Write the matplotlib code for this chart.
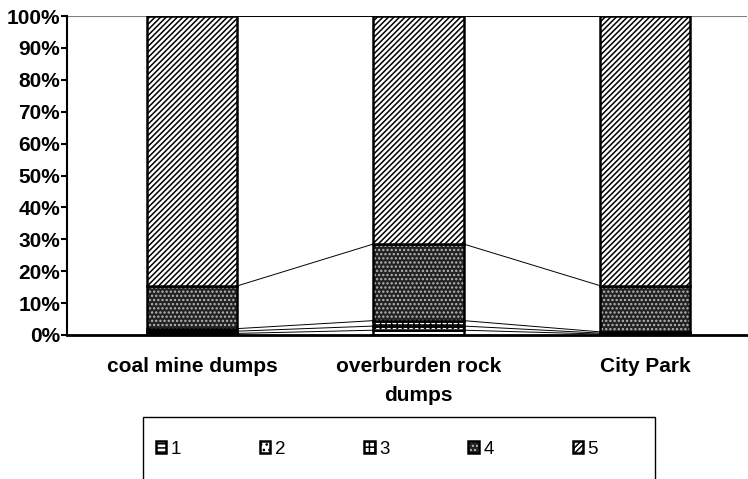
import matplotlib.pyplot as plt
import numpy as np
from matplotlib.patches import Rectangle
from matplotlib.legend_handler import HandlerTuple

plt.rcParams['font.family'] = ['Liberation Sans', 'DejaVu Sans']
plt.rcParams['hatch.linewidth'] = 1.1

sites = ['coal mine dumps', 'overburden rock\ndumps', 'City Park']
classes = ['1', '2', '3', '4', '5']
# percentage share of each class per site
c1 = [0.5, 1.5, 0.3]
c2 = [0.7, 1.3, 0.3]
c3 = [0.8, 1.7, 0.4]
c4 = [13.4, 24.0, 14.5]
c5 = [84.6, 71.5, 84.5]
series = [c1, c2, c3, c4, c5]

hatches = ['----', '...', '+++', '....', '//////']
faces = ['white', 'white', 'white', '#222222', 'white']
hcols = ['black', 'black', 'black', '#b8b8b8', 'black']

fig = plt.figure(figsize=(7.48, 4.79), dpi=100)
ax = fig.add_axes([67 / 748, 1 - 335 / 479, 680 / 748, 319 / 479])

x = np.arange(len(sites))
w = 0.4
bottom = np.zeros(len(sites))
handles = []
for vals, h, fc, hc in zip(series, hatches, faces, hcols):
    vals = np.array(vals)
    b1 = ax.bar(x, vals, w, bottom=bottom, color=fc, edgecolor=hc,
                hatch=h, linewidth=0)
    b2 = ax.bar(x, vals, w, bottom=bottom, fill=False, edgecolor='black',
                linewidth=1.8)
    handles.append((b1, b2))
    top = bottom + vals
    # series lines between bars
    for i in range(len(sites) - 1):
        ax.plot([x[i] + w / 2, x[i + 1] - w / 2], [top[i], top[i + 1]],
                color='black', linewidth=0.7)
    bottom = top

ax.set_xlim(-125 / 226.5, (747 - 192) / 226.5)
ax.set_ylim(0, 100)
ax.set_yticks(np.arange(0, 101, 10))
ax.set_yticklabels([f'{v}%' for v in range(0, 101, 10)], fontsize=15, fontweight='bold')
ax.set_xticks(x)
ax.set_xticklabels(sites, fontsize=15, fontweight='bold', linespacing=1.65)
ax.tick_params(axis='x', length=0, pad=16)
ax.tick_params(axis='y', direction='out', length=4, width=1.5, pad=1)
ax.axhline(100, color='#808080', linewidth=1.5, zorder=0)
for s in ['top', 'right']:
    ax.spines[s].set_visible(False)
ax.spines['left'].set_linewidth(1.5)
ax.spines['bottom'].set_linewidth(2)

# legend box (extends past figure bottom)
fig.patches.append(Rectangle((143 / 748, -0.05), 512 / 748, 1 - 417 / 479 + 0.05,
                             transform=fig.transFigure, fill=False,
                             edgecolor='black', linewidth=1))
fig.legend(handles=handles, labels=classes, loc='center', ncol=5,
           bbox_to_anchor=(377 / 748, 1 - 449 / 479), frameon=False,
           fontsize=13.5, handlelength=0.55, handleheight=0.6, handletextpad=0.25,
           columnspacing=4.2, handler_map={tuple: HandlerTuple(ndivide=1, pad=0)})

plt.savefig('out.png', dpi=100)
